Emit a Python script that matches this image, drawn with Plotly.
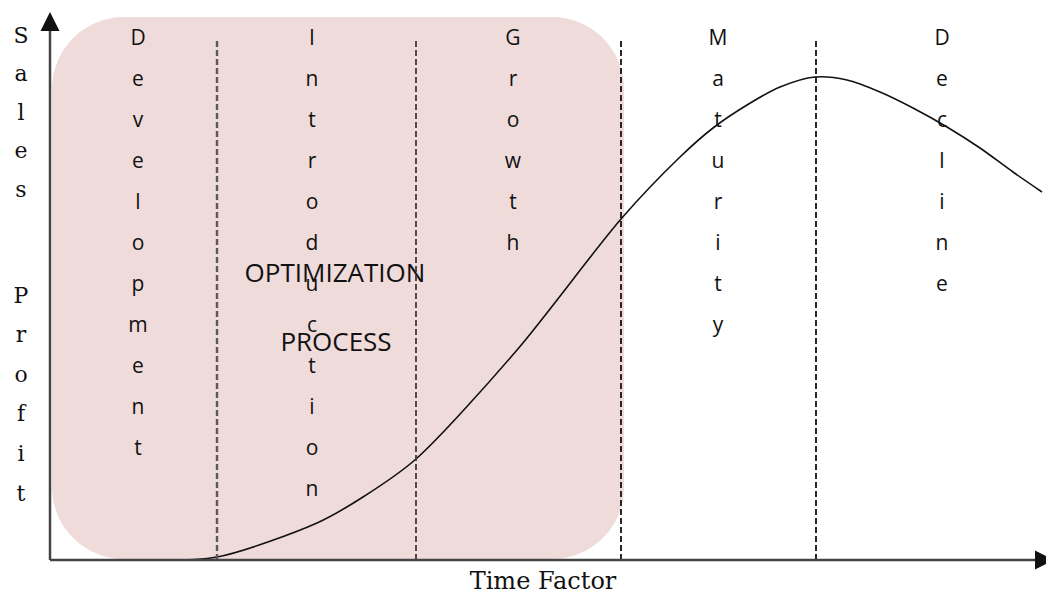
import plotly.graph_objects as go

# product life cycle curve, time vs sales (origin at the axis corner)
curve_time = [90, 167, 267, 313, 366, 467, 571, 630, 663, 697, 730, 765,
              797, 830, 863, 897, 930, 963, 992]
curve_sales = [0, 3, 37, 63, 101, 210, 341, 403, 432, 455, 473, 483,
               480, 468, 452, 433, 412, 388, 368]

# stage boundaries (dashed lines) and stage names
boundaries = [167, 366, 571, 766]
stage_names = ["Development", "Introduction", "Growth", "Maturity", "Decline"]
stage_centers = [88, 262, 463, 668, 892]

y_title_words = ["Sales", "Profit"]
x_title = "Time Factor"
box_words = ["OPTIMIZATION", "PROCESS"]

# optimization box extent
box_x0, box_x1 = 2, 574
box_y0, box_y1 = 1, 543
radius = 72

fig = go.Figure()

# rounded pink box
k = 0.5523 * radius
path = (
    f"M {box_x0 + radius},{box_y1} L {box_x1 - radius},{box_y1} "
    f"C {box_x1 - radius + k},{box_y1} {box_x1},{box_y1 - radius + k} {box_x1},{box_y1 - radius} "
    f"L {box_x1},{box_y0 + radius} "
    f"C {box_x1},{box_y0 + radius - k} {box_x1 - radius + k},{box_y0} {box_x1 - radius},{box_y0} "
    f"L {box_x0 + radius},{box_y0} "
    f"C {box_x0 + radius - k},{box_y0} {box_x0},{box_y0 + radius - k} {box_x0},{box_y0 + radius} "
    f"L {box_x0},{box_y1 - radius} "
    f"C {box_x0},{box_y1 - radius + k} {box_x0 + radius - k},{box_y1} {box_x0 + radius},{box_y1} Z"
)
fig.add_shape(type="path", path=path, xref="x", yref="y",
              fillcolor="rgb(240,219,219)", line=dict(width=0), layer="below")

# dashed stage boundaries
dash_colors = ["#5a5a5a", "#3a3a3a", "#111111", "#111111"]
dash_widths = [2.4, 1.8, 1.8, 1.8]
for bx, c, w in zip(boundaries, dash_colors, dash_widths):
    fig.add_shape(type="line", x0=bx, x1=bx, y0=0, y1=521, xref="x", yref="y",
                  line=dict(color=c, width=w, dash="6px,3px"))

# curve
fig.add_trace(go.Scatter(x=curve_time, y=curve_sales, mode="lines",
                         line=dict(color="#111111", width=1.6, shape="spline", smoothing=0.8),
                         hoverinfo="skip"))

# vertical stage labels
letter_top = 520
letter_step = 41
for name, cx in zip(stage_names, stage_centers):
    fig.add_trace(go.Scatter(
        x=[cx] * len(name),
        y=[letter_top - i * letter_step for i in range(len(name))],
        text=list(name), mode="text", textposition="middle center",
        textfont=dict(family="Open Sans", size=21, color="#111111"),
        hoverinfo="skip"))

# vertical y title "Sales Profit"
for word, top, step in zip(y_title_words, [523, 263], [38.5, 39.6]):
    fig.add_trace(go.Scatter(
        x=[-29] * len(word),
        y=[top - i * step for i in range(len(word))],
        text=list(word), mode="text", textposition="middle center",
        textfont=dict(family="DejaVu Serif", size=22, color="#111111"),
        hoverinfo="skip"))

# box text
fig.add_trace(go.Scatter(
    x=[285, 286], y=[285, 216], text=box_words, mode="text",
    textposition="middle center",
    textfont=dict(family="Open Sans", size=26, color="#111111"),
    hoverinfo="skip"))

# x title
fig.add_trace(go.Scatter(
    x=[493], y=[-23], text=[x_title], mode="text", textposition="middle center",
    textfont=dict(family="DejaVu Serif", size=24, color="#111111"),
    hoverinfo="skip"))

# axes lines
fig.add_shape(type="line", x0=0, x1=992, y0=0, y1=0, xref="x", yref="y",
              line=dict(color="#444444", width=2.5))
fig.add_shape(type="line", x0=0, x1=0, y0=0, y1=540, xref="x", yref="y",
              line=dict(color="#444444", width=2.5))

# arrow heads
fig.add_annotation(x=1004, y=0, ax=984, ay=0, xref="x", yref="y", axref="x", ayref="y",
                   showarrow=True, arrowhead=2, arrowsize=1.9, arrowwidth=2,
                   arrowcolor="#111111", text="")
fig.add_annotation(x=0, y=548, ax=0, ay=528, xref="x", yref="y", axref="x", ayref="y",
                   showarrow=True, arrowhead=2, arrowsize=1.9, arrowwidth=2,
                   arrowcolor="#111111", text="")

# page body has an 8px margin, so the figure is sized and ranged to fit it
fig.update_layout(
    width=1046, height=591,
    margin=dict(l=0, r=0, t=0, b=0),
    paper_bgcolor="white", plot_bgcolor="white",
    showlegend=False,
    xaxis=dict(range=[-42, 1004], visible=False, fixedrange=True),
    yaxis=dict(range=[-39, 552], visible=False, fixedrange=True),
)

fig.write_html("out.html")
